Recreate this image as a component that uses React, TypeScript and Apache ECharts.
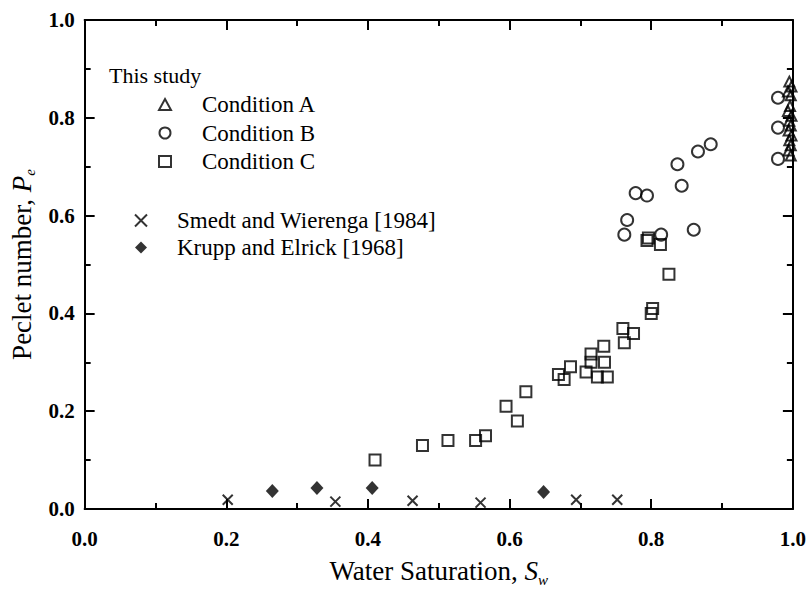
import React, { useEffect, useRef } from "react";
import * as echarts from "echarts";

const condA: [number, number][] = [
  [0.995, 0.874], [0.998, 0.864], [0.993, 0.854], [0.997, 0.846],
  [0.996, 0.824], [0.993, 0.814], [0.998, 0.804], [0.995, 0.794],
  [0.997, 0.784], [0.994, 0.774], [0.998, 0.764], [0.995, 0.754],
  [0.997, 0.744], [0.994, 0.733], [0.997, 0.723],
];
const condB: [number, number][] = [
  [0.762, 0.561], [0.766, 0.591], [0.778, 0.646], [0.794, 0.641],
  [0.814, 0.561], [0.837, 0.705], [0.843, 0.661], [0.86, 0.571],
  [0.866, 0.731], [0.884, 0.746], [0.979, 0.841], [0.979, 0.78],
  [0.979, 0.716],
];
const condC: [number, number][] = [
  [0.41, 0.1], [0.477, 0.13], [0.513, 0.14], [0.552, 0.14], [0.566, 0.15],
  [0.595, 0.21], [0.611, 0.18], [0.623, 0.24], [0.669, 0.275], [0.677, 0.265],
  [0.686, 0.291], [0.708, 0.28], [0.715, 0.3], [0.715, 0.317], [0.724, 0.27],
  [0.733, 0.333], [0.734, 0.3], [0.738, 0.27], [0.76, 0.369], [0.762, 0.34],
  [0.775, 0.359], [0.794, 0.549], [0.796, 0.554], [0.813, 0.541], [0.8, 0.4],
  [0.802, 0.41], [0.825, 0.48],
];
const smedt: [number, number][] = [
  [0.202, 0.019], [0.354, 0.015], [0.463, 0.017], [0.559, 0.013],
  [0.694, 0.019], [0.752, 0.019],
];
const krupp: [number, number][] = [
  [0.265, 0.037], [0.328, 0.043], [0.406, 0.043], [0.648, 0.035],
];

const seriesNames = [
  "Condition A",
  "Condition B",
  "Condition C",
  "Smedt and Wierenga [1984]",
  "Krupp and Elrick [1968]",
];

const SERIF = "'Liberation Serif', 'Times New Roman', serif";
const CROSS = "path://M0 0L10 10M10 0L0 10";

const axisLineStyle = { color: "#000", width: 2 };

function makeAxis(position: string, showLabel: boolean, extra: any = {}) {
  return {
    type: "value",
    min: 0,
    max: 1,
    interval: 0.2,
    position,
    axisLine: { show: true, onZero: false, lineStyle: axisLineStyle },
    axisTick: { show: true, inside: true, length: 10, lineStyle: axisLineStyle },
    minorTick: { show: true, splitNumber: 2, length: 6, lineStyle: axisLineStyle },
    splitLine: { show: false },
    minorSplitLine: { show: false },
    axisLabel: {
      show: showLabel,
      formatter: (v: number) => v.toFixed(1),
      fontFamily: SERIF,
      fontWeight: "bold",
      fontSize: 21,
      color: "#000",
      margin: position === "bottom" ? 19 : 10,
    },
    ...extra,
  };
}

const hollow = { color: "rgba(0,0,0,0)", borderColor: "#000", borderWidth: 2 };

const titleRich = {
  n: { fontFamily: SERIF, fontSize: 27, color: "#000" },
  i: { fontFamily: SERIF, fontSize: 27, fontStyle: "italic", color: "#000" },
  s: { fontFamily: SERIF, fontSize: 15, fontStyle: "italic", color: "#000", padding: [17, 0, 0, 0] },
};

export default function App() {
  const ref = useRef<HTMLDivElement>(null);
  useEffect(() => {
    if (!ref.current) return;
    const chart = echarts.init(ref.current, undefined, { renderer: "svg" });
    chart.setOption({
      animation: false,
      backgroundColor: "#fff",
      title: {
        text: "This study",
        left: 109,
        top: 64,
        padding: 0,
        textStyle: { fontFamily: SERIF, fontSize: 22, fontWeight: "normal", color: "#000" },
      },
      legend: [
        {
          data: seriesNames.slice(0, 3),
          orient: "vertical",
          left: 158,
          top: 93,
          padding: 0,
          itemWidth: 12,
          itemHeight: 11,
          itemGap: 5.5,
          textStyle: { fontFamily: SERIF, fontSize: 23, color: "#000", lineHeight: 20, padding: [0, 0, 0, 26] },
        },
        {
          data: seriesNames.slice(3),
          orient: "vertical",
          left: 134,
          top: 209,
          padding: 0,
          itemWidth: 12,
          itemHeight: 12,
          itemGap: 4,
          textStyle: { fontFamily: SERIF, fontSize: 23, color: "#000", lineHeight: 20, padding: [0, 0, 0, 25] },
        },
      ],
      grid: { left: 81, right: 16, top: 20, bottom: 73, containLabel: false },
      xAxis: [
        makeAxis("bottom", true, {
          name: "{n|Water Saturation, }{i|S}{s|w}",
          nameLocation: "middle",
          nameGap: 46,
          nameTextStyle: { rich: titleRich },
        }),
        makeAxis("top", false),
      ],
      yAxis: [
        makeAxis("left", true, {
          name: "{n|Peclet number, }{i|P}{s|e}",
          nameLocation: "middle",
          nameGap: 44,
          nameRotate: 90,
          nameTextStyle: { rich: titleRich },
        }),
        makeAxis("right", false),
      ],
      series: [
        { name: seriesNames[0], type: "scatter", data: condA, symbol: "triangle", symbolSize: 10, itemStyle: hollow },
        { name: seriesNames[1], type: "scatter", data: condB, symbol: "circle", symbolSize: 12, itemStyle: hollow },
        { name: seriesNames[2], type: "scatter", data: condC, symbol: "rect", symbolSize: 11, itemStyle: hollow },
        { name: seriesNames[3], type: "scatter", data: smedt, symbol: CROSS, symbolSize: 10, itemStyle: hollow },
        { name: seriesNames[4], type: "scatter", data: krupp, symbol: "diamond", symbolSize: [13, 14], itemStyle: { color: "#000" } },
      ],
    });
    return () => chart.dispose();
  }, []);
  return (
    <div
      ref={ref}
      style={{ position: "absolute", left: 0, top: 0, width: 809, height: 592 }}
    />
  );
}
